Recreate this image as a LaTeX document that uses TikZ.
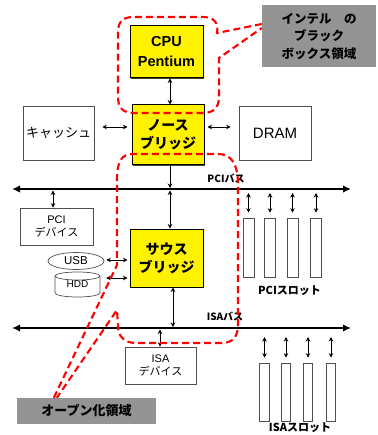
\documentclass[tikz,border=0pt]{standalone}
\usepackage{fontspec}
\setmainfont{Liberation Sans}
\newfontfamily\jp{Noto Sans CJK JP}
\usetikzlibrary{arrows.meta,shadows,shapes.geometric,calc}
\definecolor{boxgray}{RGB}{148,148,148}
\definecolor{redd}{RGB}{255,0,0}
\definecolor{edgegray}{RGB}{80,80,80}
\begin{document}
\begin{tikzpicture}[x=1pt,y=-1pt,
 ybox/.style={draw=black,line width=1pt,fill=yellow,inner sep=0pt,align=center,
   font=\jp\bfseries\fontsize{14}{18}\selectfont,
   drop shadow={shadow xshift=1.2pt,shadow yshift=-1.2pt,fill=black!75,opacity=1}},
 wbox/.style={draw=edgegray,line width=0.7pt,fill=white,inner sep=0pt,align=center},
 slot/.style={draw=edgegray,line width=0.7pt,fill=white,inner sep=0pt},
 gbox/.style={fill=boxgray,inner sep=0pt,align=center,font=\jp\bfseries\fontsize{12.5}{17.5}\selectfont},
 dar/.style={{Stealth[length=4.5pt,width=4.5pt]}-{Stealth[length=4.5pt,width=4.5pt]},line width=0.9pt},
 sar/.style={-{Stealth[length=4.5pt,width=4.5pt]},line width=0.9pt},
 bus/.style={{Latex[length=8pt,width=7.5pt]}-{Latex[length=8pt,width=7.5pt]},line width=2.2pt},
 region/.style={draw=redd,line width=2.1pt,dash pattern=on 7pt off 4pt},
 lbl/.style={font=\jp\bfseries\fontsize{10}{12}\selectfont,inner sep=0pt}
]
\useasboundingbox (0,0) rectangle (377,435);

% main nodes
\node[ybox,minimum width=73pt,minimum height=52pt,font=\bfseries\fontsize{14.5}{20}\selectfont] (cpu) at (166.5,52) {CPU\\Pentium};
\node[ybox,minimum width=72pt,minimum height=60pt] (nb) at (168,135) {ノース\\ブリッジ};
\node[ybox,minimum width=73pt,minimum height=58pt] (sb) at (166.5,258) {サウス\\ブリッジ};
\node[wbox,minimum width=71pt,minimum height=54pt,font=\jp\fontsize{13}{15}\selectfont] (cache) at (58.5,133) {キャッシュ};
\node[wbox,minimum width=72pt,minimum height=54pt,font=\fontsize{15}{18}\selectfont] (dram) at (275,133) {DRAM};
\node[wbox,minimum width=73pt,minimum height=37pt,font=\fontsize{11}{13}\selectfont] (pcidev) at (56.5,226.5) {PCI\\{\jp デバイス}};
\node[wbox,minimum width=71pt,minimum height=37pt,font=\fontsize{11}{13}\selectfont] (isadev) at (160.5,365.5) {ISA\\{\jp デバイス}};
\node[ellipse,draw=edgegray,line width=0.7pt,fill=white,inner sep=0pt,minimum width=56pt,minimum height=17pt,font=\fontsize{11.5}{13}\selectfont] (usb) at (76,261) {USB};
\draw[draw=edgegray,line width=0.7pt,fill=white] (55,276) -- (55,293) arc[start angle=180,end angle=0,x radius=22.5,y radius=4] -- (100,276) arc[start angle=0,end angle=-180,x radius=22.5,y radius=4] -- cycle;
\draw[draw=edgegray,line width=0.7pt] (55,276) arc[start angle=180,end angle=0,x radius=22.5,y radius=4];
\node[inner sep=0pt,minimum width=45pt,minimum height=25pt,font=\fontsize{10}{12}\selectfont] (hdd) at (77.5,284.5) {\raisebox{-2pt}{HDD}};

% slots
\foreach \i/\x in {1/248.5,2/270,3/292.5,4/316}
  \node[slot,minimum width=11pt,minimum height=59pt] (ps\i) at (\x,247.5) {};
\foreach \i/\x in {1/264.5,2/286,3/308,4/331}
  \node[slot,minimum width=9.5pt,minimum height=58pt] (is\i) at (\x,392) {};

% gray label boxes
\node[gbox,minimum width=114pt,minimum height=62pt] (intel) at (319,36) {インテル　の\\ブラック\\ボックス領域};
\node[gbox,minimum width=139pt,minimum height=26pt,font=\jp\bfseries\fontsize{13}{15}\selectfont] (open) at (86.5,411) {\raisebox{-3pt}{オープン化領域}};

% bus labels
\node[lbl] (pcibl) at (226,178) {PCIバス};
\node[lbl] (isabl) at (225,316) {ISAバス};
\node[lbl,font=\jp\bfseries\fontsize{11}{13}\selectfont] (pcisl) at (289.5,290.5) {PCIスロット};
\node[lbl,font=\jp\bfseries\fontsize{11}{13}\selectfont] (isasl) at (300,428) {ISAスロット};

% buses
\coordinate (pciL) at (12,189);
\coordinate (pciR) at (351,189);
\coordinate (isaL) at (12,328);
\coordinate (isaR) at (351,328);
\draw[bus] (pciL) -- (pciR);
\draw[bus] (isaL) -- (isaR);

% connectors
\draw[dar] ($(cpu.south)+(3.5pt,0)$) -- ($(cpu.south |- nb.north)+(3.5pt,0)$);
\draw[dar] ($(cache.east)+(8pt,6pt)$) -- ($(cache.east -| nb.west)+(-4pt,6pt)$);
\draw[dar] ($(nb.east)+(3pt,8pt)$) -- ($(nb.east -| dram.west)+(-8pt,8pt)$);
\draw[sar] ($(nb.south)+(2pt,0)$) -- ($(nb.south |- pciL)+(2pt,1pt)$);
\draw[dar] ($(sb.north |- pciL)+(3.5pt,-1.5pt)$) -- ($(sb.north)+(3.5pt,0)$);
\draw[dar] ($(pcidev.north |- pciL)+(-3.5pt,-1.5pt)$) -- ($(pcidev.north)+(-3.5pt,0)$);
\draw[dar] ($(sb.south)+(6.5pt,0)$) -- ($(sb.south |- isaL)+(6.5pt,1pt)$);
\draw[dar] ($(isadev.north |- isaL)+(-0.5pt,-1.5pt)$) -- ($(isadev.north)+(-0.5pt,0)$);
\draw[dar] ($(usb.east)+(2pt,1pt)$) -- ($(usb.east -| sb.west)+(-2pt,1pt)$);
\draw[dar] ($(hdd.east)+(6pt,6.5pt)$) -- ($(hdd.east -| sb.west)+(-2pt,6.5pt)$);
\foreach \i in {1,...,4} {
  \draw[dar] ($(ps\i.north |- pciL)+(0,-4pt)$) -- ($(ps\i.north)+(0,5pt)$);
  \draw[dar] ($(is\i.north |- isaL)+(0,-9pt)$) -- ($(is\i.north)+(0,5pt)$);
}

% red dashed regions
\coordinate (iA) at ($(intel.west)+(0,12pt)$);
\coordinate (iB) at ($(intel.west)+(0,8pt)$);
\draw[region] (iA) -- (217,33) .. controls (219,22) and (213,17) .. (203,17) -- (134,17) .. controls (122,17) and (118,22) .. (118,33) -- (118,97) .. controls (118,108) and (123,113) .. (134,113) -- (203,113) .. controls (213,113) and (219,108) .. (219,97) -- (219,58) -- (iB);
\coordinate (oA) at ($(open.north west)+(37pt,0)$);
\coordinate (oB) at ($(open.north west)+(40pt,0)$);
\draw[region] (oA) -- (117,265) -- (117,180) .. controls (117,162) and (121,154) .. (133,154) -- (218,154) .. controls (232,154) and (238,165) .. (238,185) -- (238,325) .. controls (238,336) and (233,343) .. (222,343) -- (136,343) .. controls (124,343) and (118,336) .. (118,326) -- (117,310) -- (oB);
\end{tikzpicture}
\end{document}
